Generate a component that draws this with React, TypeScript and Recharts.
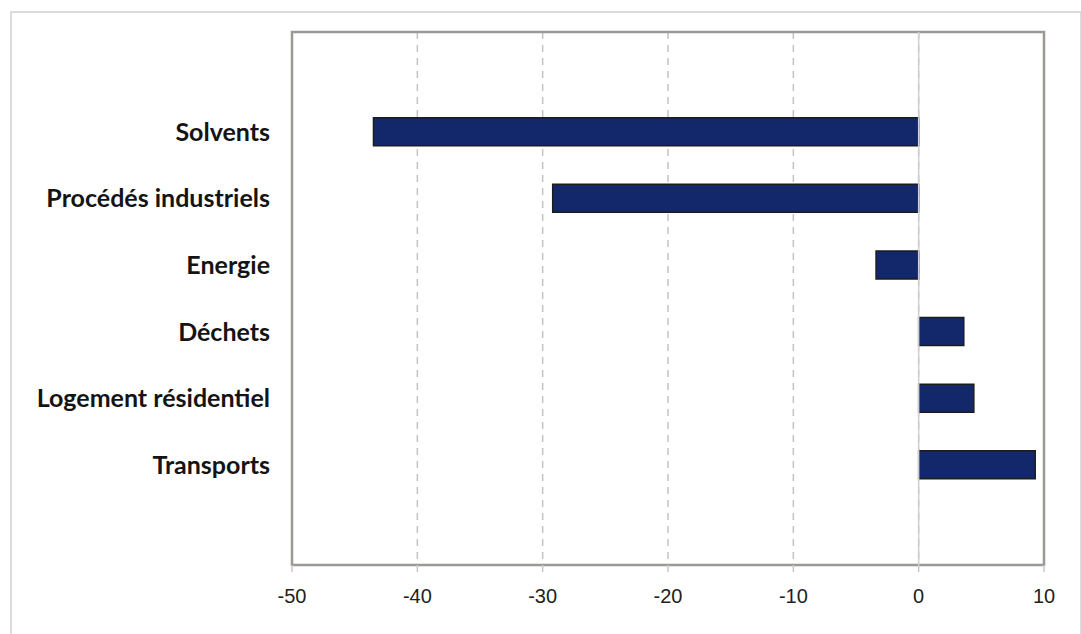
import React from 'react';
import { BarChart, Bar, XAxis, YAxis, CartesianGrid, ReferenceLine, ReferenceArea } from 'recharts';

const categories = ['Solvents', 'Procédés industriels', 'Energie', 'Déchets', 'Logement résidentiel', 'Transports'];
const values = [-43.5, -29.2, -3.4, 3.6, 4.4, 9.3];
const xTicks = [-50, -40, -30, -20, -10, 0, 10];

// blank slots above and below the categories, as in the original
const data = [
  { name: '', value: null as number | null },
  ...categories.map((name, i) => ({ name, value: values[i] as number | null })),
  { name: ' ', value: null as number | null },
];

export default function App() {
  return (
    <div style={{ position: 'absolute', left: 0, top: 0, width: 1081, height: 634, background: '#fff', overflow: 'hidden' }}>
      <div
        style={{
          position: 'absolute',
          left: 10,
          top: 11,
          width: 1068,
          height: 640,
          borderLeft: '2px solid #dcdcdc',
          borderTop: '2px solid #dcdcdc',
          borderRight: '2px solid #dcdcdc',
        }}
      />
      <div style={{ position: 'absolute', left: 0, top: 0 }}>
        <BarChart
          width={1081}
          height={634}
          data={data}
          layout="vertical"
          margin={{ top: 32, right: 37, bottom: 39, left: 12 }}
          barCategoryGap={0}
        >
          <CartesianGrid horizontal={false} vertical={true} stroke="#c4c4c4" strokeDasharray="7 6" strokeWidth={1.5} />
          <ReferenceLine x={0} stroke="#cfcfcf" strokeWidth={1.5} ifOverflow="visible" />
          <XAxis
            type="number"
            domain={[-50, 10]}
            ticks={xTicks}
            interval={0}
            axisLine={false}
            tickLine={{ stroke: '#c8c8c8', strokeWidth: 1.5 }}
            tickSize={7}
            tickMargin={17}
            height={30}
            tick={{ fontFamily: 'Liberation Sans, Arial, sans-serif', fontSize: 20, fill: '#222' }}
          />
          <YAxis
            type="category"
            dataKey="name"
            width={280}
            axisLine={false}
            tickLine={false}
            tickSize={0}
            tickMargin={22}
            interval={0}
            tick={{ fontFamily: 'Lato, sans-serif', fontWeight: 700, fontSize: 25, fill: '#141414' }}
          />
          <Bar dataKey="value" fill="#13286b" stroke="#1c1c1c" strokeWidth={1.5} barSize={28} isAnimationActive={false} />
          <ReferenceArea x1={-50} x2={10} fill="none" stroke="#9b9995" strokeWidth={2.5} ifOverflow="visible" />
        </BarChart>
      </div>
    </div>
  );
}
